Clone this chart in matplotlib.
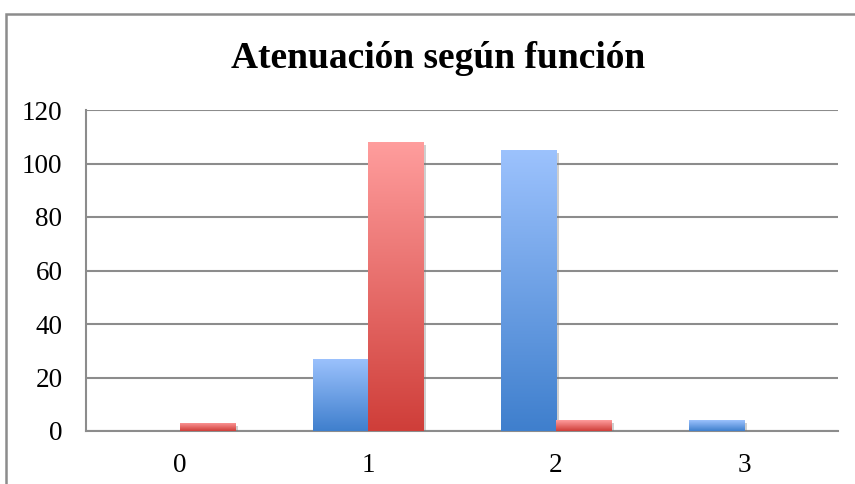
import numpy as np
import matplotlib
matplotlib.use("Agg")
import matplotlib.pyplot as plt
import matplotlib.patheffects as pe
from matplotlib.colors import LinearSegmentedColormap
from matplotlib.patches import Rectangle

categorias = [0, 1, 2, 3]
serie_azul = [0, 27, 105, 4]
serie_roja = [3, 108, 4, 0]
titulo = "Atenuación según función"

plt.rcParams['font.family'] = ['Liberation Serif', 'DejaVu Serif']

fig = plt.figure(figsize=(8.55, 4.84), dpi=100)
ax = fig.add_axes([86 / 855, 1 - 431 / 484, (838 - 86) / 855, (431 - 110) / 484])

# degradados tipo Excel (claro arriba, oscuro abajo)
cmap_azul = LinearSegmentedColormap.from_list("azul", ["#3F7FCD", "#9CC2FD"])
cmap_roja = LinearSegmentedColormap.from_list("roja", ["#CF3E39", "#FF9D9D"])

x = np.arange(len(categorias))
ancho = 0.293
sombra = [pe.SimplePatchShadow(offset=(2, -2), shadow_rgbFace="#777777", alpha=0.35), pe.Normal()]

barras_azul = ax.bar(x - ancho / 2, serie_azul, ancho, color="#6A9BE0", zorder=3, path_effects=sombra)
barras_roja = ax.bar(x + ancho / 2, serie_roja, ancho, color="#E86A66", zorder=3, path_effects=sombra)

grad = np.linspace(0, 1, 256).reshape(-1, 1)
for barras, cmap in [(barras_azul, cmap_azul), (barras_roja, cmap_roja)]:
    for b in barras:
        h = b.get_height()
        if h <= 0:
            continue
        x0 = b.get_x()
        im = ax.imshow(grad, cmap=cmap, origin="lower", aspect="auto",
                       extent=[x0, x0 + b.get_width(), 0, h], zorder=4)
        im.set_clip_path(b)

ax.set_xlim(-0.5, 3.5)
ax.set_ylim(0, 120)
ax.set_yticks(range(0, 121, 20))
ax.set_xticks(x)
ax.set_xticklabels([str(c) for c in categorias])

ax.grid(axis="y", color="#8C8C8C", linewidth=1.5, zorder=1)
ax.set_axisbelow(True)
for s in ["top", "right"]:
    ax.spines[s].set_visible(False)
for s in ["left", "bottom"]:
    ax.spines[s].set_color("#8C8C8C")
    ax.spines[s].set_linewidth(1.5)
ax.tick_params(axis="both", length=0, labelsize=19.5)
ax.tick_params(axis="y", pad=17)
ax.tick_params(axis="x", pad=16)

fig.text(438 / 855, 1 - 58 / 484, titulo, ha="center", va="center",
         fontsize=27, fontweight="bold")

# marco del gráfico (se sale por la derecha y por abajo)
fig.patches.append(Rectangle((6 / 855, -0.05), 1.0, 1 - 14 / 484 + 0.05,
                             transform=fig.transFigure, fill=False,
                             edgecolor="#8C8C8C", linewidth=1.8))

fig.savefig("out.png", dpi=100)
